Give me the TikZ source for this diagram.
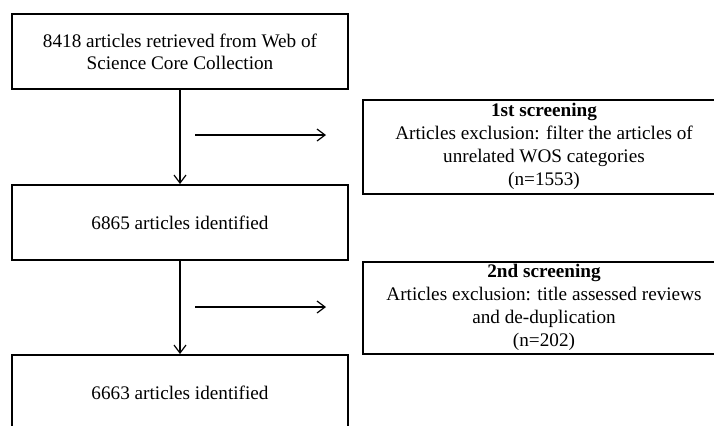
\documentclass[tikz,border=0pt]{standalone}
\usepackage{fontspec}
\setmainfont{Liberation Serif}
\usetikzlibrary{arrows.meta}
\begin{document}
\begin{tikzpicture}[x=0.5pt,y=-0.5pt]
	\tikzstyle{stage}=[draw, line width=1pt, minimum width=168pt, minimum height=37.5pt, inner sep=0pt, align=center, font=\fontsize{9.6}{11}\selectfont]
	\tikzstyle{screen}=[stage, minimum width=181pt, font=\fontsize{9.6}{11.4}\selectfont]
	\tikzstyle{flow}=[-{Straight Barb[length=4pt,width=6pt]}, line width=0.6pt]
	\useasboundingbox (0,0) rectangle (714,425);
	\clip (0,0) rectangle (714,425);
	% main column
	\node[stage] (retrieved) at (180,51.5) {8418 articles retrieved from Web of\\Science Core Collection};
	\node[stage] (identA) at (180,222.5) {6865 articles identified};
	\node[stage] (identB) at (180,392.5) {6663 articles identified};
	% exclusions
	\node[screen, minimum height=47pt] (screenA) at (544,146.5) {\textbf{1st screening}\\Articles exclusion: filter the articles of\\unrelated WOS categories\\(n=1553)};
	\node[screen, minimum height=46pt] (screenB) at (544,307.5) {\textbf{2nd screening}\\Articles exclusion: title assessed reviews\\and de-duplication\\(n=202)};
	\coordinate (outA) at (195,135);
	\coordinate (endA) at (326,135);
	\coordinate (outB) at (195,307);
	\coordinate (endB) at (326,307);
	\draw[flow] (retrieved) -- (identA);
	\draw[flow] (identA) -- (identB);
	\draw[flow] (outA) -- (endA);
	\draw[flow] (outB) -- (endB);
\end{tikzpicture}
\end{document}
